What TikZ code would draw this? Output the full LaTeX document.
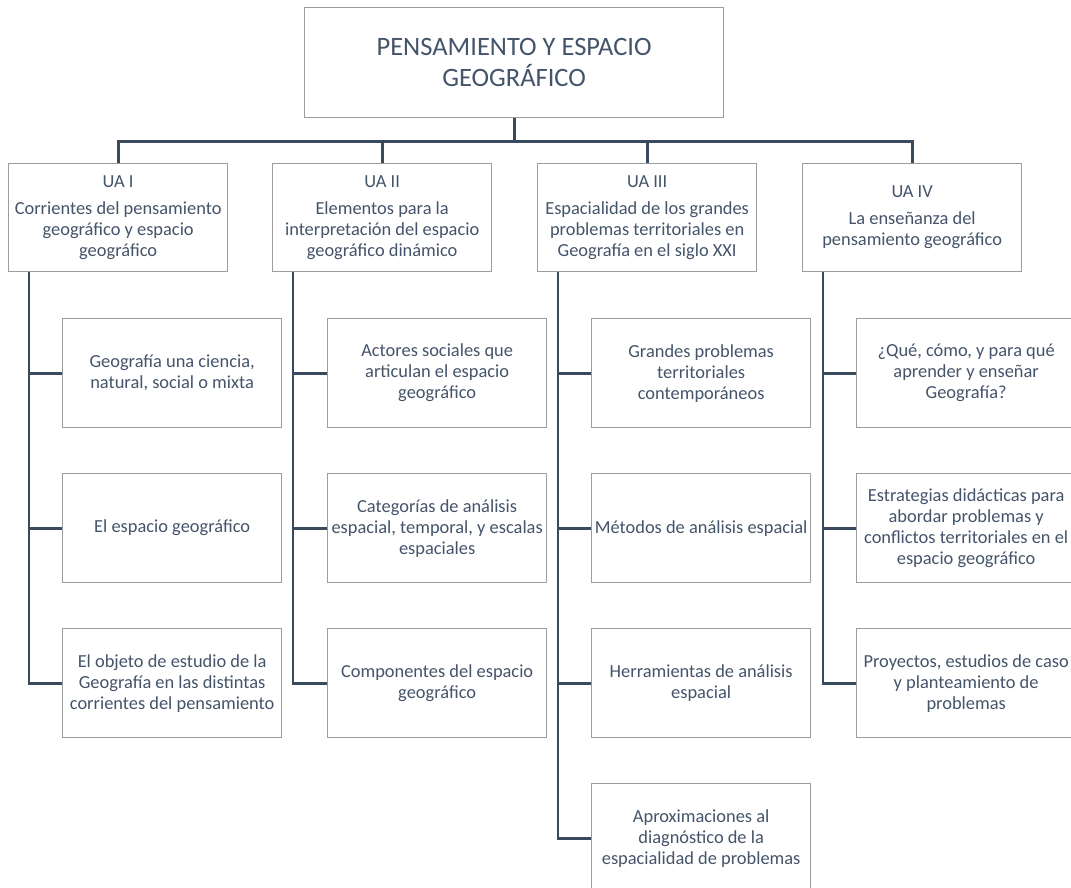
\documentclass[tikz,border=0pt]{standalone}
\usepackage{fontspec}
\setmainfont{Carlito}
\usepackage{tikz}

\definecolor{txtslate}{HTML}{44546A}
\definecolor{lineslate}{HTML}{3A4A5E}
\definecolor{boxgray}{HTML}{9C9C9C}

\tikzset{
    box/.style={draw=boxgray, line width=1.3pt, fill=white, text=txtslate, align=center,
        anchor=north west, inner sep=1pt, minimum width=219pt,
        font=\fontsize{18.4}{21}\selectfont},
    unitbox/.style={box, minimum height=108pt},
    topicbox/.style={box, minimum height=109pt},
    conn/.style={draw=lineslate, line width=2.8pt}
}

\begin{document}
\begin{tikzpicture}[x=1pt, y=-1pt]
    \useasboundingbox (0,0) rectangle (1071,888);
    \clip (0,0) rectangle (1071,888);

    \node[box, minimum width=419pt, minimum height=110pt, font=\fontsize{26.5}{31}\selectfont]
        (top) at (304,7) {PENSAMIENTO Y ESPACIO\\GEOGRÁFICO};

    \node[unitbox] (ua1) at (8,163)   {UA I\\[6pt]Corrientes del pensamiento\\geográfico y espacio\\geográfico};
    \node[unitbox] (ua2) at (272,163) {UA II\\[6pt]Elementos para la\\interpretación del espacio\\geográfico dinámico};
    \node[unitbox] (ua3) at (537,163) {UA III\\[6pt]Espacialidad de los grandes\\problemas territoriales en\\Geografía en el siglo XXI};
    \node[unitbox] (ua4) at (802,163) {UA IV\\[6pt]La enseñanza del\\pensamiento geográfico};

    \node[topicbox] (a1) at (62,318) {Geografía una ciencia,\\natural, social o mixta};
    \node[topicbox] (a2) at (62,473) {El espacio geográfico};
    \node[topicbox] (a3) at (62,628) {El objeto de estudio de la\\Geografía en las distintas\\corrientes del pensamiento};

    \node[topicbox] (b1) at (327,318) {Actores sociales que\\articulan el espacio\\geográfico};
    \node[topicbox] (b2) at (327,473) {Categorías de análisis\\espacial, temporal, y escalas\\espaciales};
    \node[topicbox] (b3) at (327,628) {Componentes del espacio\\geográfico};

    \node[topicbox] (c1) at (591,318) {Grandes problemas\\territoriales\\contemporáneos};
    \node[topicbox] (c2) at (591,473) {Métodos de análisis espacial};
    \node[topicbox] (c3) at (591,628) {Herramientas de análisis\\espacial};
    \node[topicbox] (c4) at (591,783) {Aproximaciones al\\diagnóstico de la\\espacialidad de problemas};

    \node[topicbox] (d1) at (856,318) {¿Qué, cómo, y para qué\\aprender y enseñar\\Geografía?};
    \node[topicbox] (d2) at (856,473) {Estrategias didácticas para\\abordar problemas y\\conflictos territoriales en el\\espacio geográfico};
    \node[topicbox] (d3) at (856,628) {Proyectos, estudios de caso\\y planteamiento de\\problemas};

    \foreach \u in {ua1,ua2,ua3,ua4}
        \draw[conn] (top.south) -- ++(0,23) -| (\u.north);

    \foreach \t in {a1,a2,a3}
        \draw[conn] ([xshift=21pt]ua1.south west) |- (\t.west);
    \foreach \t in {b1,b2,b3}
        \draw[conn] ([xshift=21pt]ua2.south west) |- (\t.west);
    \foreach \t in {c1,c2,c3,c4}
        \draw[conn] ([xshift=21pt]ua3.south west) |- (\t.west);
    \foreach \t in {d1,d2,d3}
        \draw[conn] ([xshift=21pt]ua4.south west) |- (\t.west);
\end{tikzpicture}
\end{document}
